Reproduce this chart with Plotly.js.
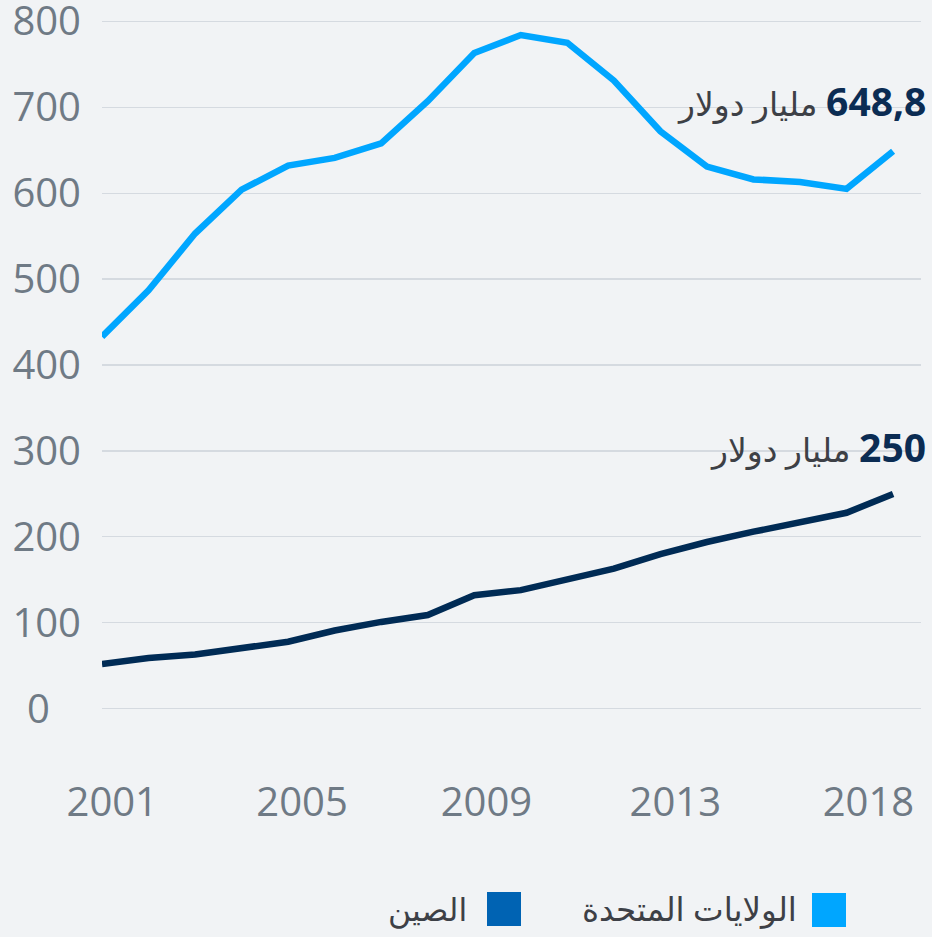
<!DOCTYPE html>
<html>
<head>
<meta charset="utf-8">
<script src="https://cdn.plot.ly/plotly-3.0.1.min.js"></script>
<style>html,body{margin:0;padding:0;background:#f1f3f5;}</style>
</head>
<body>
<div id="chart" style="width:932px;height:937px;"></div>
<script>
// ---- data ----
const years = [2001, 2002, 2003, 2004, 2005, 2006, 2007, 2008, 2009, 2010, 2011, 2012, 2013, 2014, 2015, 2016, 2017, 2018];
const usValues = [433, 487, 553, 604, 632, 641, 658, 707, 763, 784, 775, 731, 672, 631, 616, 613, 605, 648.8];
const chinaValues = [52, 59, 63, 70, 78, 91, 101, 109, 132, 138, 150, 163, 180, 194, 206, 217, 228, 250];
const seriesNames = ['الولايات المتحدة', 'الصين'];
const xTickLabels = ['2001', '2005', '2009', '2013', '2018'];
const yTickValues = [0, 100, 200, 300, 400, 500, 600, 700, 800];
const usLabel = '648,8';
const chinaLabel = '250';
const unitText = 'مليار دولار';

// ---- styling ----
const usColor = '#00a6ff';
const chinaColor = '#002b55';
const chinaLegendColor = '#0063b3';
const tickColor = '#6f7a85';
const bg = '#f1f3f5';
const FONT = 'Open Sans, DejaVu Sans, sans-serif';

const L = 102, R = 921, T = 17, B = 713;
const px2x = p => (p - L) / (R - L);
const py2y = p => (B - p) / (B - T);

const xTickPos = [2001.22, 2005.3, 2009.26, 2013.32, 2017.47];
const yTickText = yTickValues.map(v => v === 0 ? '0\u00A0\u00A0\u00A0' : String(v));

const traces = [
  { x: years, y: usValues, type: 'scatter', mode: 'lines', name: seriesNames[0],
    line: { color: usColor, width: 6.5 }, hoverinfo: 'skip' },
  { x: years, y: chinaValues, type: 'scatter', mode: 'lines', name: seriesNames[1],
    line: { color: chinaColor, width: 6.5 }, hoverinfo: 'skip' }
];

function endLabel(xv, yv, num, xs, ys) {
  return {
    x: xv, y: yv, xref: 'x', yref: 'y', showarrow: false,
    xanchor: 'right', yanchor: 'middle', xshift: xs, yshift: ys,
    text: '\u200F<span style="color:#0b2c53;font-weight:bold;font-size:39px">' + num + '</span> ' + unitText,
    font: { family: FONT, size: 33, color: '#3d4046' }
  };
}

const annotations = [
  endLabel(years[years.length - 1], usValues[usValues.length - 1], usLabel, 35, 51),
  endLabel(years[years.length - 1], chinaValues[chinaValues.length - 1], chinaLabel, 35, 47),
  { xref: 'paper', yref: 'paper', x: px2x(799), y: py2y(908), xanchor: 'right', yanchor: 'middle',
    showarrow: false, text: seriesNames[0], font: { family: FONT, size: 32.5, color: '#3d4046' } },
  { xref: 'paper', yref: 'paper', x: px2x(469), y: py2y(908), xanchor: 'right', yanchor: 'middle',
    showarrow: false, text: seriesNames[1], font: { family: FONT, size: 31.5, color: '#3d4046' } }
];

const shapes = [
  { type: 'rect', xref: 'paper', yref: 'paper', x0: px2x(812), x1: px2x(846), y0: py2y(927), y1: py2y(893),
    fillcolor: usColor, line: { width: 0 } },
  { type: 'rect', xref: 'paper', yref: 'paper', x0: px2x(487), x1: px2x(521), y0: py2y(926), y1: py2y(892),
    fillcolor: chinaLegendColor, line: { width: 0 } }
];

const layout = {
  width: 932, height: 937,
  paper_bgcolor: bg, plot_bgcolor: bg,
  margin: { l: L, r: 932 - R, t: T, b: 937 - B, pad: 0 },
  showlegend: false,
  font: { family: FONT },
  xaxis: {
    range: [2001, 2018.6], showgrid: false, zeroline: false, showline: false,
    ticks: '', tickmode: 'array', tickvals: xTickPos, ticktext: xTickLabels,
    tickfont: { family: FONT, size: 40, color: tickColor }, ticklabelstandoff: 62,
    ticklabeloverflow: 'allow'
  },
  yaxis: {
    range: [-5, 805], showgrid: true, gridcolor: '#d5dae0', gridwidth: 1.3,
    zeroline: false, showline: false, ticks: '',
    tickmode: 'array', tickvals: yTickValues, ticktext: yTickText,
    tickfont: { family: FONT, size: 40, color: tickColor }, ticklabelstandoff: 20,
    ticklabeloverflow: 'allow'
  },
  annotations: annotations,
  shapes: shapes
};

Plotly.newPlot('chart', traces, layout, { displayModeBar: false, staticPlot: true });
</script>
</body>
</html>
